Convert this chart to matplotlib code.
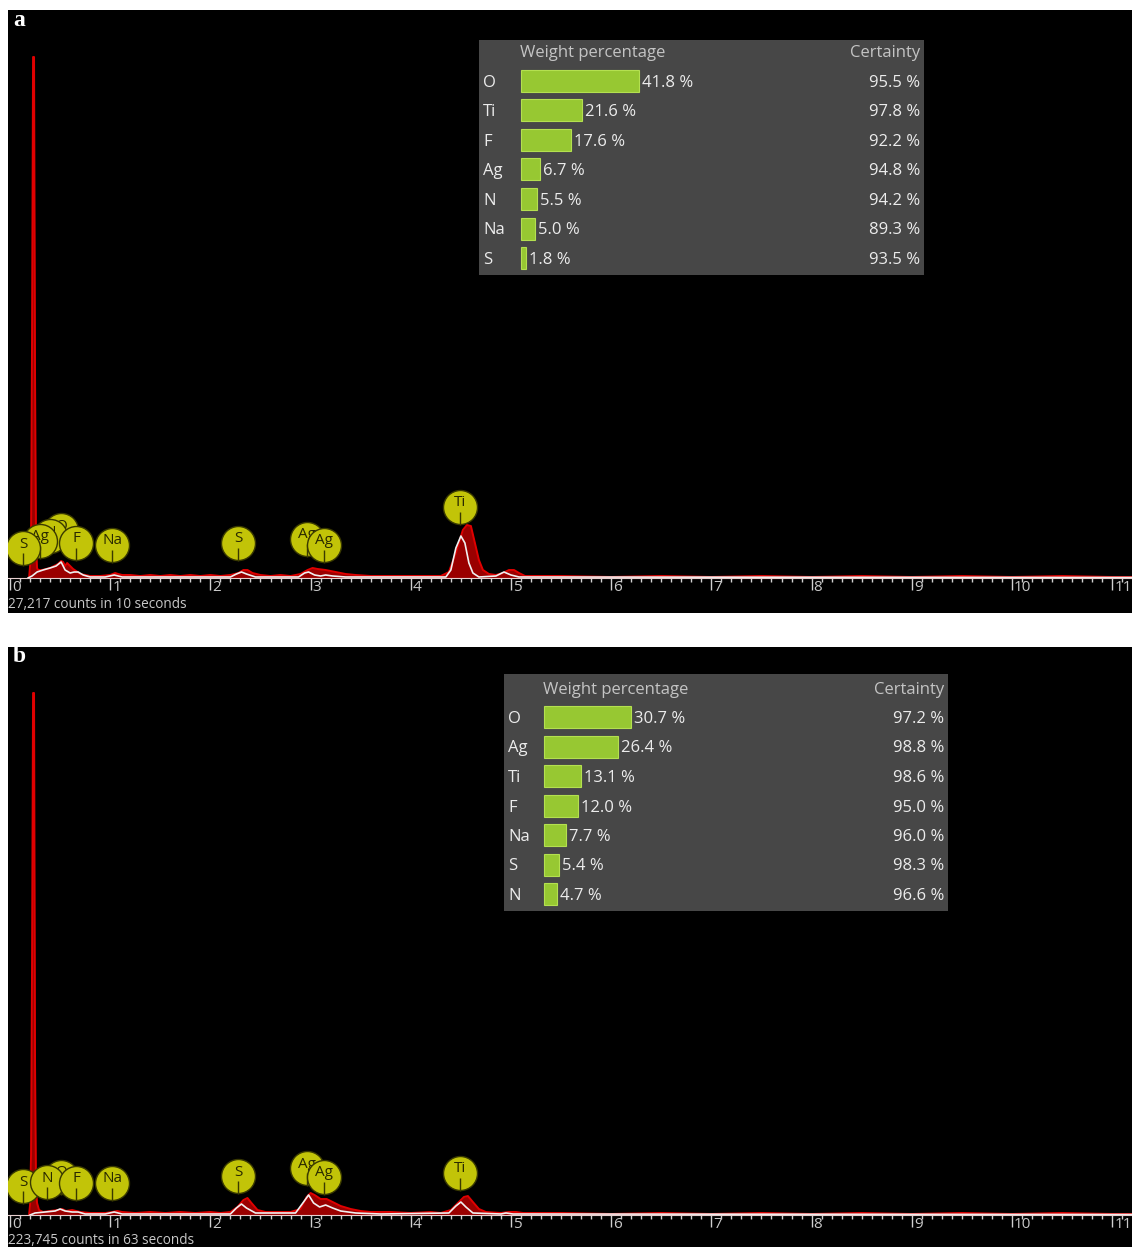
import matplotlib
matplotlib.use('Agg')
from matplotlib import pyplot as plt
from matplotlib.transforms import offset_copy

W, H, DPI = 1132, 1247, 100
PX = 72 / DPI  # points per pixel

FONT = ['Open Sans', 'DejaVu Sans']
CIRCLE = '#c2c408'
CIRCLE_EDGE = '#3a3a00'
BAR = '#97c832'
FILL = '#9a0000'
EDGE = '#e00000'
TRACE = '#f0f0f0'
GREY = '#c8c8c8'
TEXT = '#ececec'

# ---- quantification tables ----
ELEMENTS_A = ['O', 'Ti', 'F', 'Ag', 'N', 'Na', 'S']
WEIGHT_A = [41.8, 21.6, 17.6, 6.7, 5.5, 5.0, 1.8]
CERTAINTY_A = [95.5, 97.8, 92.2, 94.8, 94.2, 89.3, 93.5]

ELEMENTS_B = ['O', 'Ag', 'Ti', 'F', 'Na', 'S', 'N']
WEIGHT_B = [30.7, 26.4, 13.1, 12.0, 7.7, 5.4, 4.7]
CERTAINTY_B = [97.2, 98.8, 98.6, 95.0, 96.0, 98.3, 96.6]

# ---- spectrum a (keV / counts) ----
KEV_A = [0.19, 0.20, 0.21, 0.22, 0.23, 0.24, 0.25, 0.26, 0.27, 0.28,
         0.32, 0.36, 0.40, 0.44, 0.48, 0.51, 0.53, 0.55, 0.57, 0.60,
         0.63, 0.66, 0.70, 0.75, 0.80, 0.90, 1.00, 1.05, 1.08, 1.12,
         1.20, 1.30, 1.40, 1.50, 1.60, 1.70, 1.80, 1.90, 2.00, 2.10,
         2.20, 2.28, 2.33, 2.37, 2.42, 2.50, 2.60, 2.70, 2.80, 2.90,
         2.97, 3.02, 3.07, 3.15, 3.25, 3.35, 3.45, 3.60, 3.80, 4.00,
         4.20, 4.30, 4.38, 4.45, 4.52, 4.56, 4.60, 4.64, 4.68, 4.72,
         4.78, 4.85, 4.92, 4.98, 5.03, 5.08, 5.14, 5.50, 6.00, 6.50,
         7.00, 7.50, 8.00, 8.50, 9.00, 9.50, 10.00, 10.50, 11.00, 11.20]
COUNTS_A = [0, 120, 400, 2400, 5210, 5210, 2000, 300, 100, 80,
            80, 90, 100, 120, 140, 170, 160, 120, 150, 120,
            90, 70, 40, 30, 20, 20, 30, 50, 40, 30,
            30, 20, 30, 20, 30, 20, 30, 20, 30, 20,
            30, 50, 80, 80, 50, 30, 20, 30, 20, 40,
            80, 100, 90, 80, 60, 40, 30, 20, 20, 20,
            20, 20, 60, 250, 480, 530, 520, 350, 180, 80,
            40, 30, 50, 80, 80, 50, 20, 20, 10, 20,
            10, 20, 10, 20, 10, 20, 10, 20, 10, 10]
FIT_KEV_A = [0.18, 0.22, 0.27, 0.33, 0.40, 0.46, 0.51, 0.55, 0.60, 0.64,
             0.68, 0.73, 0.80, 0.95, 1.04, 1.12, 2.20, 2.26, 2.31, 2.36,
             2.45, 2.88, 2.94, 2.98, 3.04, 3.10, 3.15, 3.22, 3.35, 4.35,
             4.40, 4.45, 4.50, 4.54, 4.58, 4.62, 4.68, 4.85, 4.93, 5.00,
             5.08, 11.20]
FIT_A = [0, 20, 60, 80, 100, 120, 160, 80, 50, 60,
         60, 30, 10, 10, 30, 10, 10, 40, 60, 40,
         10, 10, 50, 60, 30, 20, 30, 20, 10, 10,
         80, 300, 420, 350, 150, 50, 10, 20, 60, 30,
         10, 5]

# ---- spectrum b ----
KEV_B = [0.19, 0.20, 0.21, 0.22, 0.23, 0.24, 0.25, 0.26, 0.27, 0.29,
         0.33, 0.40, 0.48, 0.52, 0.56, 0.62, 0.70, 0.80, 0.95, 1.02,
         1.07, 1.12, 1.25, 1.40, 1.55, 1.70, 1.85, 2.00, 2.10, 2.20,
         2.27, 2.33, 2.37, 2.41, 2.47, 2.55, 2.70, 2.80, 2.90, 2.96,
         3.00, 3.04, 3.10, 3.16, 3.22, 3.30, 3.40, 3.50, 3.60, 3.80,
         4.00, 4.20, 4.30, 4.40, 4.47, 4.53, 4.57, 4.62, 4.68, 4.75,
         4.90, 4.98, 5.05, 5.12, 5.50, 6.00, 6.50, 7.00, 7.50, 8.00,
         8.50, 9.00, 9.50, 10.00, 10.50, 11.00, 11.20]
COUNTS_B = [0, 100, 600, 2500, 5220, 5220, 1500, 250, 120, 50,
            30, 40, 50, 60, 40, 50, 30, 20, 20, 30,
            40, 30, 20, 30, 20, 30, 20, 30, 20, 30,
            80, 150, 170, 120, 50, 30, 30, 30, 60, 180,
            220, 200, 160, 160, 130, 90, 60, 40, 30, 30,
            20, 30, 20, 50, 120, 180, 190, 130, 60, 30,
            20, 30, 30, 20, 20, 10, 20, 10, 20, 10,
            20, 10, 20, 10, 20, 10, 10]
FIT_KEV_B = [0.20, 0.25, 0.35, 0.45, 0.50, 0.55, 0.62, 0.68, 0.75, 0.95,
             1.04, 1.12, 2.20, 2.26, 2.31, 2.36, 2.45, 2.85, 2.93, 2.98,
             3.03, 3.09, 3.15, 3.22, 3.30, 3.45, 3.70, 4.38, 4.45, 4.50,
             4.55, 4.62, 4.90, 4.95, 5.02, 11.20]
FIT_B = [0, 20, 30, 40, 60, 40, 30, 30, 10, 10,
         30, 10, 10, 70, 110, 70, 20, 20, 130, 200,
         120, 80, 100, 70, 40, 20, 10, 20, 90, 130,
         80, 20, 10, 20, 10, 5]

# ---- peak markers, back to front ----
PEAK_NAMES_A = ['O', 'N', 'Ag', 'S', 'F', 'Na', 'S', 'Ag', 'Ag', 'Ti']
PEAK_KEV_A = [0.51, 0.40, 0.30, 0.13, 0.66, 1.02, 2.28, 2.96, 3.13, 4.49]
PEAK_Y_A = [480, 420, 370, 300, 350, 330, 350, 390, 330, 710]

PEAK_NAMES_B = ['O', 'S', 'N', 'F', 'Na', 'S', 'Ag', 'Ag', 'Ti']
PEAK_KEV_B = [0.51, 0.13, 0.37, 0.66, 1.02, 2.28, 2.96, 3.13, 4.49]
PEAK_Y_B = [380, 290, 330, 320, 320, 390, 470, 380, 420]

plt.rcParams['font.family'] = FONT


def _px_axes(fig, x0, y0, w, h):
    """Axes placed by pixel box (top-left origin)."""
    return fig.add_axes([x0 / W, (H - y0 - h) / H, w / W, h / H])


def _spectrum(ax, kev, counts, fit_kev, fit, footer, letter):
    ax.set_facecolor('black')
    ax.fill_between(kev, 0, counts, color=FILL, lw=0, zorder=2)
    ax.plot(kev, counts, color=EDGE, lw=1.4, zorder=3)
    ax.plot(fit_kev, fit, color=TRACE, lw=1.2, zorder=4)
    ax.set_xlim(-0.02, 11.198)
    ax.set_ylim(-350, 5680)

    for side in ('top', 'left', 'right'):
        ax.spines[side].set_visible(False)
    ax.spines['bottom'].set_position(('data', 0))
    ax.spines['bottom'].set_color('#e8d0d0')
    ax.spines['bottom'].set_zorder(5)
    ax.set_yticks([])
    ax.set_xticks(range(12))
    ax.set_xticks([k / 10 for k in range(112)], minor=True)
    ax.tick_params(axis='x', which='major', direction='out', length=12 * PX,
                   width=1, color='#d0d0d0', labelbottom=False)
    ax.tick_params(axis='x', which='minor', direction='out', length=4 * PX,
                   width=1, color='#d0d0d0')

    fig = ax.figure
    lbl_tr = offset_copy(ax.transData, fig=fig, x=2 * PX, y=-2 * PX,
                         units='points')
    for k in range(12):
        ax.text(k, 0, str(k), color=GREY, fontsize=11, ha='left',
                va='top', transform=lbl_tr)

    ax.text(0.0, 9 / 603, footer, transform=ax.transAxes, color=GREY,
            fontsize=9.8, ha='left', va='center')
    ax.text(5 / 1124, 1 - 10 / 603, letter, transform=ax.transAxes,
            color='white', fontsize=17, fontweight='bold', va='center',
            ha='left', family=['Liberation Serif', 'DejaVu Serif'])


def _peaks(ax, names, kev, heights):
    fig = ax.figure
    txt_tr = offset_copy(ax.transData, fig=fig, y=4 * PX, units='points')
    bar_tr = offset_copy(ax.transData, fig=fig, y=-10.5 * PX, units='points')
    for i, (name, e, h) in enumerate(zip(names, kev, heights)):
        z = 10 + 3 * i
        ax.scatter([e], [h], s=(34 * PX) ** 2, color=CIRCLE,
                   edgecolors=CIRCLE_EDGE, linewidths=1, zorder=z)
        ax.text(e, h, name, transform=txt_tr, ha='center', va='center',
                fontsize=11, color='#2a2a00', zorder=z + 1)
        ax.plot([e], [h], marker='|', markersize=13 * PX, mew=1,
                color=CIRCLE_EDGE, transform=bar_tr, zorder=z + 2)


def _table(fig, box, bar_x, top_pad, elements, weight, certainty):
    x0, y0, w, h = box
    ax = _px_axes(fig, x0, y0, w, h)
    ax.set_facecolor('#474747')
    for side in ax.spines.values():
        side.set_visible(False)
    ax.set_xticks([])
    ax.set_yticks([])
    scale = 2.82  # px per percent
    row = 29.5
    ax.set_xlim(-bar_x / scale, (w - bar_x) / scale)
    ax.set_ylim(6 + (h - top_pad - 6 * row) / row, -top_pad / row)

    rows = range(len(elements))
    ax.barh(rows, weight, height=22 / row, left=0, color=BAR,
            edgecolor='#b4e050', linewidth=0.8)
    left = -(bar_x - 4) / scale
    right = (w - bar_x - 4) / scale
    fs = 12
    dy = 2 / row  # nudge text onto the bar centre line
    ax.text(-0.3, -1.0 + dy, 'Weight percentage', color='#c4c4c4',
            fontsize=fs, ha='left', va='center')
    ax.text(right, -1.0 + dy, 'Certainty', color='#c4c4c4', fontsize=fs,
            ha='right', va='center')
    for i, el, wt, ce in zip(rows, elements, weight, certainty):
        ax.text(left, i + dy, el, color=TEXT, fontsize=fs, ha='left',
                va='center')
        ax.annotate(f'{wt:.1f} %', (wt, i + dy), xytext=(3 * PX, 0),
                    textcoords='offset points', color=TEXT,
                    fontsize=fs, ha='left', va='center')
        ax.text(right, i + dy, f'{ce:.1f} %', color=TEXT, fontsize=fs,
                ha='right', va='center')


fig = plt.figure(figsize=(W / DPI, H / DPI), dpi=DPI, facecolor='white')

ax_a = _px_axes(fig, 8, 10, 1124, 603)
_spectrum(ax_a, KEV_A, COUNTS_A, FIT_KEV_A, FIT_A,
          '27,217 counts in 10 seconds', 'a')
_peaks(ax_a, PEAK_NAMES_A, PEAK_KEV_A, PEAK_Y_A)
_table(fig, (479, 40, 445, 235), 42, 41, ELEMENTS_A, WEIGHT_A, CERTAINTY_A)

ax_b = _px_axes(fig, 8, 647, 1124, 603)
_spectrum(ax_b, KEV_B, COUNTS_B, FIT_KEV_B, FIT_B,
          '223,745 counts in 63 seconds', 'b')
_peaks(ax_b, PEAK_NAMES_B, PEAK_KEV_B, PEAK_Y_B)
_table(fig, (504, 674, 444, 237), 40, 43, ELEMENTS_B, WEIGHT_B, CERTAINTY_B)

fig.savefig('out.png', dpi=DPI, facecolor='white')
